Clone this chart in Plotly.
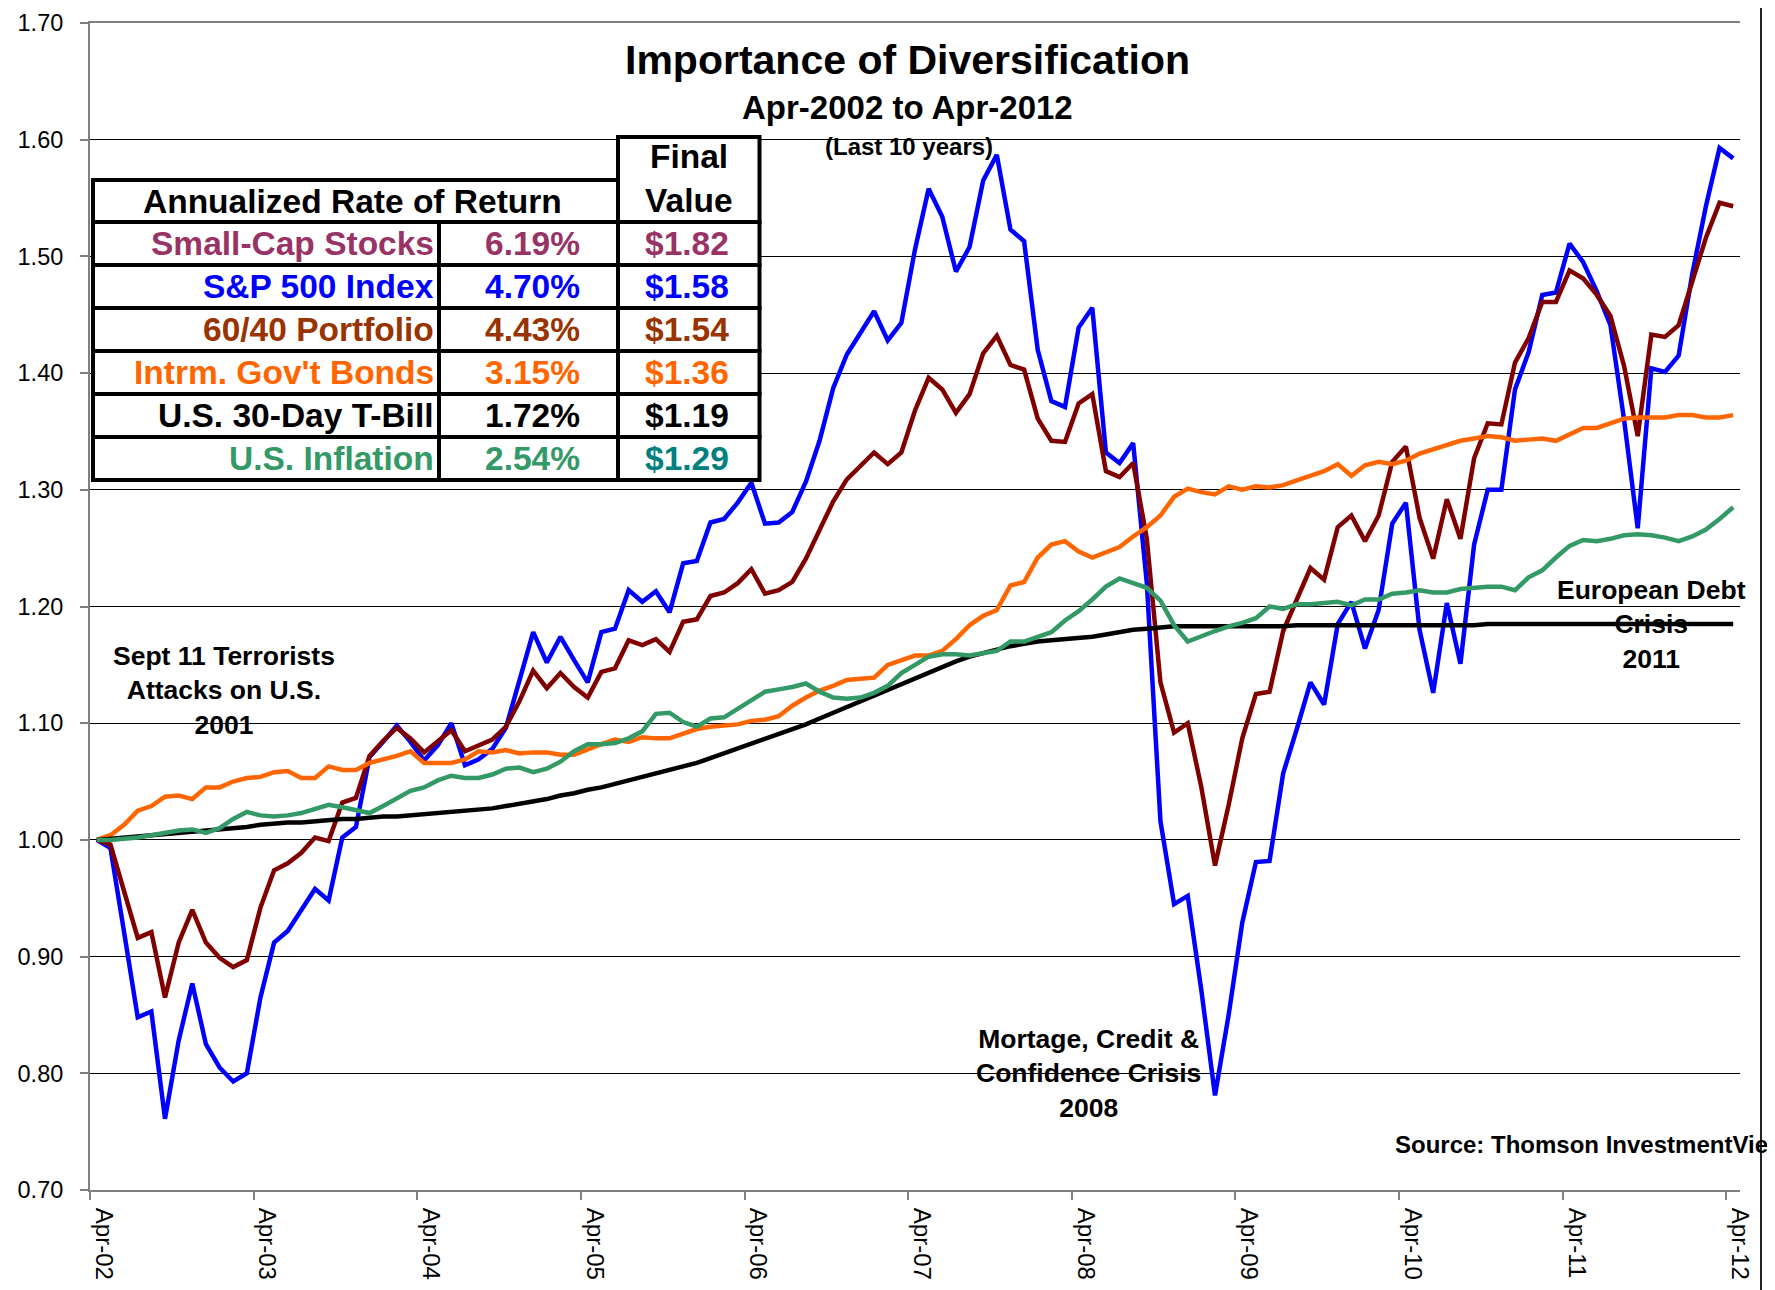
import pandas as pd
import plotly.graph_objects as go

# ---------------- data ----------------
months = pd.date_range("2002-04-01", "2012-04-01", freq="MS").strftime("%b-%y").tolist()

sp500 = [
    1.000, 0.993, 0.921, 0.848, 0.853, 0.761, 0.828, 0.877, 0.825, 0.805, 0.793, 0.800,
    0.865, 0.912, 0.922, 0.940, 0.958, 0.948, 1.002, 1.011, 1.071, 1.084, 1.098, 1.084,
    1.068, 1.081, 1.100, 1.064, 1.069, 1.078, 1.096, 1.137, 1.178, 1.152, 1.174, 1.154,
    1.135, 1.178, 1.181, 1.214, 1.204, 1.213, 1.195, 1.237, 1.239, 1.272, 1.275, 1.289,
    1.306, 1.271, 1.272, 1.281, 1.307, 1.342, 1.387, 1.416, 1.434, 1.453, 1.428, 1.443,
    1.506, 1.558, 1.534, 1.487, 1.508, 1.565, 1.587, 1.523, 1.513, 1.420, 1.376, 1.371,
    1.439, 1.456, 1.332, 1.323, 1.340, 1.220, 1.016, 0.945, 0.952, 0.871, 0.781, 0.850,
    0.929, 0.981, 0.982, 1.057, 1.095, 1.135, 1.116, 1.185, 1.204, 1.164, 1.197, 1.271,
    1.289, 1.180, 1.126, 1.203, 1.151, 1.253, 1.300, 1.300, 1.386, 1.418, 1.467, 1.469,
    1.511, 1.495, 1.470, 1.441, 1.360, 1.267, 1.404, 1.401, 1.415, 1.485, 1.543, 1.593,
    1.584,
]

portfolio_6040 = [
    1.000, 0.996, 0.956, 0.916, 0.921, 0.865, 0.912, 0.940, 0.912, 0.899, 0.891, 0.897,
    0.942, 0.974, 0.980, 0.989, 1.002, 0.999, 1.032, 1.036, 1.072, 1.085, 1.096, 1.087,
    1.075, 1.084, 1.094, 1.076, 1.081, 1.086, 1.097, 1.119, 1.145, 1.130, 1.143, 1.131,
    1.122, 1.144, 1.147, 1.171, 1.167, 1.172, 1.161, 1.187, 1.189, 1.209, 1.212, 1.220,
    1.232, 1.211, 1.214, 1.221, 1.241, 1.266, 1.290, 1.309, 1.321, 1.332, 1.322, 1.332,
    1.368, 1.396, 1.386, 1.366, 1.382, 1.417, 1.432, 1.407, 1.403, 1.361, 1.342, 1.341,
    1.374, 1.382, 1.316, 1.311, 1.323, 1.258, 1.135, 1.092, 1.100, 1.045, 0.978, 1.030,
    1.087, 1.125, 1.127, 1.179, 1.206, 1.233, 1.223, 1.268, 1.278, 1.256, 1.278, 1.324,
    1.337, 1.276, 1.241, 1.292, 1.258, 1.327, 1.357, 1.356, 1.409, 1.430, 1.461, 1.461,
    1.488, 1.481, 1.467, 1.449, 1.406, 1.346, 1.433, 1.431, 1.441, 1.479, 1.516, 1.546,
    1.543,
]

gov_bonds = [
    1.000, 1.004, 1.013, 1.025, 1.029, 1.037, 1.038, 1.035, 1.045, 1.045, 1.050, 1.053,
    1.054, 1.058, 1.059, 1.053, 1.053, 1.063, 1.060, 1.060, 1.066, 1.069, 1.072, 1.076,
    1.066, 1.066, 1.066, 1.069, 1.076, 1.075, 1.077, 1.074, 1.075, 1.075, 1.073, 1.073,
    1.078, 1.082, 1.086, 1.084, 1.088, 1.087, 1.087, 1.091, 1.095, 1.097, 1.098, 1.099,
    1.102, 1.103, 1.106, 1.115, 1.122, 1.128, 1.132, 1.137, 1.138, 1.139, 1.150, 1.154,
    1.158, 1.158, 1.162, 1.172, 1.184, 1.192, 1.197, 1.218, 1.221, 1.242, 1.253, 1.256,
    1.247, 1.242, 1.246, 1.251, 1.260, 1.268, 1.278, 1.294, 1.301, 1.298, 1.296, 1.303,
    1.300, 1.303, 1.302, 1.304, 1.308, 1.312, 1.316, 1.322, 1.312, 1.321, 1.324, 1.322,
    1.325, 1.331, 1.335, 1.339, 1.342, 1.344, 1.346, 1.345, 1.342, 1.343, 1.344, 1.342,
    1.348, 1.353, 1.353, 1.357, 1.361, 1.362, 1.362, 1.362, 1.364, 1.364, 1.362, 1.362,
    1.364,
]

tbill = [
    1.000, 1.001, 1.002, 1.003, 1.004, 1.005, 1.006, 1.007, 1.008, 1.009, 1.010, 1.011,
    1.013, 1.014, 1.015, 1.015, 1.016, 1.017, 1.018, 1.018, 1.019, 1.020, 1.020, 1.021,
    1.022, 1.023, 1.024, 1.025, 1.026, 1.027, 1.029, 1.031, 1.033, 1.035, 1.038, 1.040,
    1.043, 1.045, 1.048, 1.051, 1.054, 1.057, 1.060, 1.063, 1.066, 1.070, 1.074, 1.078,
    1.082, 1.086, 1.090, 1.094, 1.099, 1.104, 1.109, 1.114, 1.119, 1.124, 1.129, 1.134,
    1.139, 1.144, 1.149, 1.153, 1.157, 1.160, 1.163, 1.166, 1.168, 1.170, 1.171, 1.172,
    1.173, 1.174, 1.176, 1.178, 1.180, 1.181, 1.182, 1.183, 1.183, 1.183, 1.183, 1.183,
    1.183, 1.183, 1.183, 1.183, 1.184, 1.184, 1.184, 1.184, 1.184, 1.184, 1.184, 1.184,
    1.184, 1.184, 1.184, 1.184, 1.184, 1.184, 1.185, 1.185, 1.185, 1.185, 1.185, 1.185,
    1.185, 1.185, 1.185, 1.185, 1.185, 1.185, 1.185, 1.185, 1.185, 1.185, 1.185, 1.185,
    1.185,
]

inflation = [
    1.000, 1.000, 1.001, 1.002, 1.004, 1.006, 1.008, 1.009, 1.006, 1.010, 1.018, 1.024,
    1.021, 1.020, 1.021, 1.023, 1.027, 1.030, 1.028, 1.025, 1.023, 1.029, 1.036, 1.042,
    1.045, 1.051, 1.055, 1.053, 1.053, 1.056, 1.061, 1.062, 1.058, 1.061, 1.067, 1.076,
    1.082, 1.082, 1.083, 1.087, 1.093, 1.108, 1.109, 1.101, 1.097, 1.104, 1.105, 1.112,
    1.120, 1.127, 1.129, 1.131, 1.134, 1.127, 1.122, 1.121, 1.122, 1.126, 1.132, 1.143,
    1.150, 1.157, 1.159, 1.159, 1.158, 1.160, 1.162, 1.170, 1.170, 1.174, 1.178, 1.188,
    1.196, 1.206, 1.217, 1.224, 1.220, 1.216, 1.205, 1.184, 1.170, 1.175, 1.179, 1.183,
    1.186, 1.190, 1.200, 1.198, 1.202, 1.202, 1.203, 1.204, 1.201, 1.206, 1.206, 1.211,
    1.212, 1.214, 1.212, 1.212, 1.215, 1.216, 1.217, 1.217, 1.214, 1.225, 1.231, 1.242,
    1.252, 1.257, 1.256, 1.258, 1.261, 1.262, 1.261, 1.259, 1.256, 1.260, 1.266, 1.275,
    1.285,
]

series_names = ["S&P 500 Index", "60/40 Portfolio", "Intrm. Gov't Bonds",
                "U.S. 30-Day T-Bill", "U.S. Inflation"]
series_values = [sp500, portfolio_6040, gov_bonds, tbill, inflation]
series_colors = ["#0000FF", "#800000", "#FF6600", "#000000", "#339966"]

table_names = ["Small-Cap Stocks", "S&P 500 Index", "60/40 Portfolio",
               "Intrm. Gov't Bonds", "U.S. 30-Day T-Bill", "U.S. Inflation"]
table_rates = ["6.19%", "4.70%", "4.43%", "3.15%", "1.72%", "2.54%"]
table_finals = ["$1.82", "$1.58", "$1.54", "$1.36", "$1.19", "$1.29"]
name_colors = ["#993366", "#0000FF", "#993300", "#FF6600", "#000000", "#339966"]
final_colors = ["#993366", "#0000FF", "#993300", "#FF6600", "#000000", "#008080"]

tick_month = "Apr"

# ---------------- layout geometry (screen pixels) ----------------
W, H = 1775, 1290
S = 8                      # page offset of the figure (body margin)
ML, MR, MT, MB = 82, 43, 15, 108
PW, PH = W - ML - MR, H - MT - MB
FONT = "Liberation Sans, Arial, sans-serif"


def px(x):
    return (x - S - ML) / PW


def py(y):
    return (H - MB - (y - S)) / PH


xs = list(range(len(months)))
label_idx = [i for i, m in enumerate(months) if m.startswith(tick_month)]
label_txt = [months[i] for i in label_idx]
label_pos = [i + 0.5 for i in label_idx]
boundary_vals = [i - 0.5 for i in label_idx]

fig = go.Figure()
for name, vals, col in zip(series_names, series_values, series_colors):
    fig.add_trace(go.Scatter(x=xs, y=vals, mode="lines", name=name,
                             line=dict(color=col, width=4.5), showlegend=False))

shapes = []
annotations = []

# outer frame
shapes.append(dict(type="rect", xref="paper", yref="paper",
                   x0=px(4.5), x1=px(1761), y0=py(1310), y1=py(3),
                   line=dict(color="#222222", width=2), fillcolor="rgba(0,0,0,0)",
                   layer="below"))

# table
TL, C1, C2, TR = 93, 439, 618, 759.5
FV_TOP, HD_TOP, HD_BOT = 137, 180, 222
ROW_H = (480 - HD_BOT) / len(table_names)
LW = 4


def cell(x0, x1, y0, y1):
    shapes.append(dict(type="rect", xref="paper", yref="paper",
                       x0=px(x0), x1=px(x1), y0=py(y1), y1=py(y0),
                       line=dict(color="black", width=LW), fillcolor="white",
                       layer="above"))


cell(TL, C2, HD_TOP, HD_BOT)
cell(C2, TR, FV_TOP, HD_BOT)
TFS = 33.5


def txt(x, y, s, size, color="black", xanchor="center"):
    annotations.append(dict(xref="paper", yref="paper", x=px(x), y=py(y),
                            text="<b>" + s + "</b>", showarrow=False,
                            xanchor=xanchor, yanchor="middle",
                            font=dict(family=FONT, size=size, color=color)))


txt(352, (HD_TOP + HD_BOT) / 2, "Annualized Rate of Return", TFS)
txt((C2 + TR) / 2, 157, "Final", TFS)
txt((C2 + TR) / 2, 200, "Value", TFS)

for i, (nm, rt, fv, nc, fc) in enumerate(zip(table_names, table_rates, table_finals,
                                             name_colors, final_colors)):
    y0 = HD_BOT + i * ROW_H
    y1 = y0 + ROW_H
    cell(TL, C1, y0, y1)
    cell(C1, C2, y0, y1)
    cell(C2, TR, y0, y1)
    yc = (y0 + y1) / 2
    txt(436, yc, nm, TFS, nc, "right")
    txt(532, yc, rt, TFS, nc)
    txt(687, yc, fv, TFS, fc)

# titles
txt(907, 60, "Importance of Diversification", 41)
txt(907, 108, "Apr-2002 to Apr-2012", 33)
txt(909, 146, "(Last 10 years)", 24)

# event notes
txt(224, 690, "Sept 11 Terrorists<br>Attacks on U.S.<br>2001", 26.5)
txt(1088, 1073, "Mortage, Credit &amp;<br>Confidence Crisis<br>2008", 26.5)
txt(1651, 624, "European Debt<br>Crisis<br>2011", 26.5)
txt(1393, 1144, "Source: Thomson InvestmentView", 24, xanchor="left")

fig.update_layout(
    width=W, height=H,
    margin=dict(l=ML, r=MR, t=MT, b=MB, autoexpand=False),
    paper_bgcolor="white", plot_bgcolor="white",
    font=dict(family=FONT, size=23, color="black"),
    shapes=shapes, annotations=annotations,
    xaxis=dict(range=[-0.5, len(months) - 0.5], tickmode="array",
               tickvals=label_pos, ticktext=label_txt, tickangle=90,
               ticks="", showgrid=False, zeroline=False,
               showline=True, linecolor="#808080", linewidth=2, mirror=True,
               ticklabelstandoff=11,
               tickfont=dict(family=FONT, size=24, color="black"),
               minor=dict(tickmode="array", tickvals=boundary_vals,
                          ticks="outside", ticklen=8, tickwidth=2,
                          tickcolor="#808080", showgrid=False)),
    yaxis=dict(range=[0.7, 1.7], tick0=0.7, dtick=0.1, tickformat=".2f",
               showgrid=True, gridcolor="black", gridwidth=1, zeroline=False,
               showline=True, linecolor="#808080", linewidth=2,
               ticks="outside", ticklen=8, tickwidth=2, tickcolor="#808080",
               ticklabelstandoff=12,
               tickfont=dict(family=FONT, size=23.5, color="black")),
)

fig.write_html("out.html")
